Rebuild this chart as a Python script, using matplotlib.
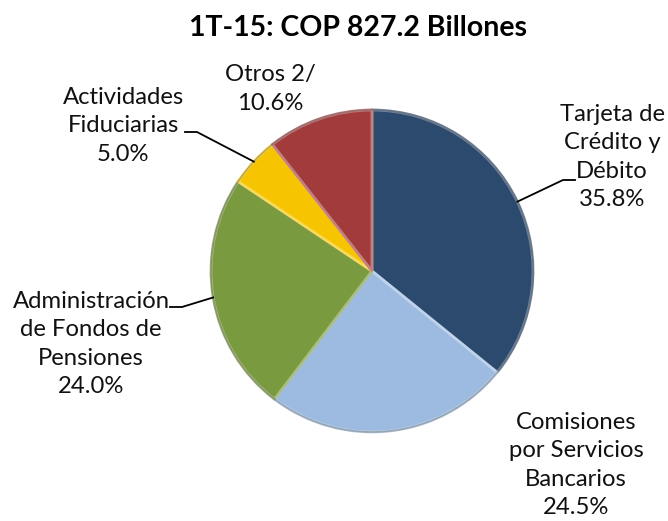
import numpy as np
import matplotlib
matplotlib.use("Agg")
import matplotlib.pyplot as plt
from matplotlib.colors import to_rgb

categories = ["Tarjeta de\nCrédito y\nDébito", "Comisiones\npor Servicios\nBancarios",
              "Administración\nde Fondos de\nPensiones", "Actividades\nFiduciarias", "Otros 2/"]
shares = [35.8, 24.5, 24.0, 5.0, 10.6]
colors = ["#2c4a6e", "#9dbbe0", "#7a9a3f", "#f6c400", "#a23c3c"]
title = "1T-15: COP 827.2 Billones"

W, H = 668, 521
plt.rcParams["font.family"] = ["Lato", "DejaVu Sans"]

fig = plt.figure(figsize=(W / 100, H / 100), dpi=100)
ax = fig.add_axes([0, 0, 1, 1])


def px(x, y):
    # pixel position (top-left origin) -> data coords
    return x, H - y


def lighten(c, f):
    r, g, b = to_rgb(c)
    return (r + (1 - r) * f, g + (1 - g) * f, b + (1 - b) * f)


center = px(372, 271)
radius = 161
wedges, _ = ax.pie(shares, colors=colors, startangle=90, counterclock=False,
                   center=center, radius=radius, frame=True,
                   wedgeprops=dict(linewidth=2.0, edgecolor="white"))
# bevel-ish look: lighter edges per wedge, darker rim
for w, c in zip(wedges, colors):
    w.set_edgecolor(lighten(c, 0.35))
ax.add_patch(plt.Circle(center, radius, fill=False, lw=1.2, ec=(0.3, 0.3, 0.3, 0.35)))
ax.set_xlim(0, W); ax.set_ylim(0, H)
ax.set_aspect("equal")
ax.axis("off")

# label layout: text centre (x, y) in pixels, leader start (x, y) or None
layout = [
    ((612, 157), (575, 180)),
    ((576, 465), None),
    ((91, 344), (170, 307)),
    ((123, 126), (185, 132)),
    ((270, 89), None),
]

for w, cat, val, (pos, lead) in zip(wedges, categories, shares, layout):
    ax.text(*px(*pos), f"{cat}\n{val:.1f}%", ha="center", va="center",
            fontsize=17.2, linespacing=1.42, color="#111111")
    if lead is not None:
        ang = np.deg2rad((w.theta1 + w.theta2) / 2)
        ex = center[0] + radius * np.cos(ang)
        ey = center[1] + radius * np.sin(ang)
        sx, sy = px(*lead)
        step = 12 if sx > ex else -12
        ax.plot([sx, sx - step, ex], [sy, sy, ey], color="black", lw=1.3)

ax.text(*px(358, 28), title, ha="center", va="center", fontsize=20.5,
        fontweight="bold", color="black")

fig.savefig("out.png", dpi=100)
